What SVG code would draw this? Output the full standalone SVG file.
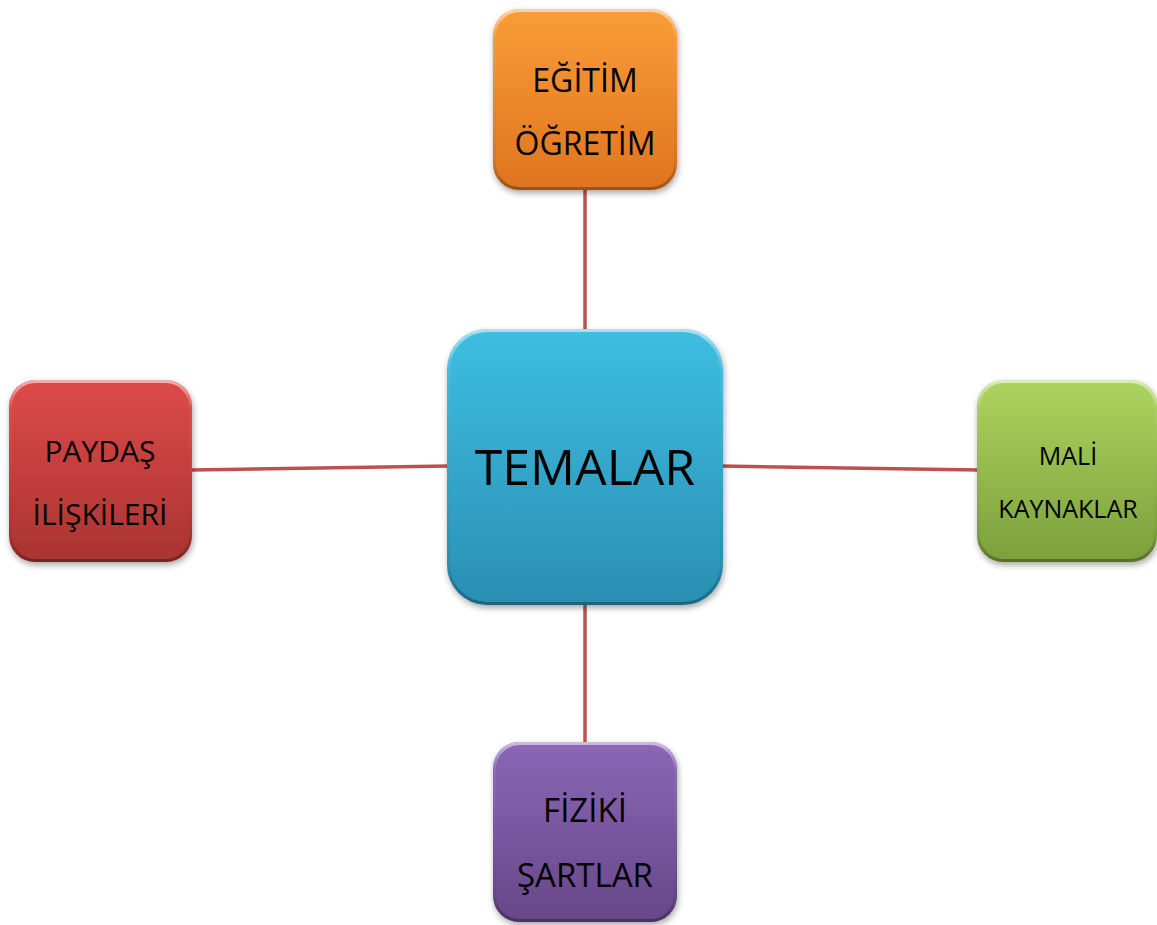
<svg xmlns="http://www.w3.org/2000/svg" width="1157" height="925" viewBox="0 0 1157 925">
<style>
.lbl{font-family:"Open Sans","Liberation Sans",sans-serif;fill:#000;text-anchor:middle}
.conn{stroke:#c0504d;stroke-width:3.5;fill:none}
.bevel{fill:none;stroke:url(#hl);stroke-width:3}
</style>
<defs>
<filter id="sh" x="-20%" y="-20%" width="140%" height="140%">
<feDropShadow dx="1" dy="3" stdDeviation="3" flood-color="#000" flood-opacity="0.35"/>
</filter>
<linearGradient id="hl" x1="0" y1="0" x2="0" y2="1">
<stop offset="0" stop-color="#fff" stop-opacity="0.55"/>
<stop offset="0.15" stop-color="#fff" stop-opacity="0.05"/>
<stop offset="0.85" stop-color="#000" stop-opacity="0.05"/>
<stop offset="1" stop-color="#000" stop-opacity="0.3"/>
</linearGradient>
<linearGradient id="gO" x1="0" y1="0" x2="0" y2="1"><stop offset="0" stop-color="#f99d37"/><stop offset="1" stop-color="#df7420"/></linearGradient>
<linearGradient id="gB" x1="0" y1="0" x2="0" y2="1"><stop offset="0" stop-color="#3dbee2"/><stop offset="1" stop-color="#2a8fb2"/></linearGradient>
<linearGradient id="gG" x1="0" y1="0" x2="0" y2="1"><stop offset="0" stop-color="#acd45e"/><stop offset="1" stop-color="#7ba03c"/></linearGradient>
<linearGradient id="gR" x1="0" y1="0" x2="0" y2="1"><stop offset="0" stop-color="#dd4a47"/><stop offset="1" stop-color="#a93432"/></linearGradient>
<linearGradient id="gP" x1="0" y1="0" x2="0" y2="1"><stop offset="0" stop-color="#8b67b6"/><stop offset="1" stop-color="#664788"/></linearGradient>
</defs>
<g id="connectors">
<line class="conn" x1="585" y1="190" x2="585" y2="332"/>
<line class="conn" x1="585" y1="603" x2="585" y2="744"/>
<line class="conn" x1="191" y1="470" x2="449" y2="466"/>
<line class="conn" x1="721" y1="466" x2="979" y2="470"/>
</g>
<g id="node-egitim">
<rect x="493" y="9" width="184" height="181" rx="26" fill="url(#gO)" filter="url(#sh)"/>
<rect x="494.5" y="10.5" width="181" height="178" rx="25" class="bevel"/>
<text class="lbl" x="585" y="92" font-size="32">EĞİTİM</text>
<text class="lbl" x="585" y="155" font-size="32">ÖĞRETİM</text>
</g>
<g id="node-temalar">
<rect x="447" y="329" width="276" height="276" rx="40" fill="url(#gB)" filter="url(#sh)"/>
<rect x="448.5" y="330.5" width="273" height="273" rx="39" class="bevel"/>
<text class="lbl" x="585" y="485" font-size="50">TEMALAR</text>
</g>
<g id="node-mali">
<rect x="977" y="380" width="180" height="182" rx="26" fill="url(#gG)" filter="url(#sh)"/>
<rect x="978.5" y="381.5" width="177" height="179" rx="25" class="bevel"/>
<text class="lbl" x="1068" y="465" font-size="25">MALİ</text>
<text class="lbl" x="1068" y="518" font-size="25">KAYNAKLAR</text>
</g>
<g id="node-paydas">
<rect x="9" y="380" width="183" height="182" rx="26" fill="url(#gR)" filter="url(#sh)"/>
<rect x="10.5" y="381.5" width="180" height="179" rx="25" class="bevel"/>
<text class="lbl" x="100" y="462" font-size="30">PAYDAŞ</text>
<text class="lbl" x="100" y="525" font-size="30">İLİŞKİLERİ</text>
</g>
<g id="node-fiziki">
<rect x="493" y="742" width="184" height="180" rx="26" fill="url(#gP)" filter="url(#sh)"/>
<rect x="494.5" y="743.5" width="181" height="177" rx="25" class="bevel"/>
<text class="lbl" x="585" y="822" font-size="33">FİZİKİ</text>
<text class="lbl" x="585" y="887" font-size="33">ŞARTLAR</text>
</g>
</svg>
